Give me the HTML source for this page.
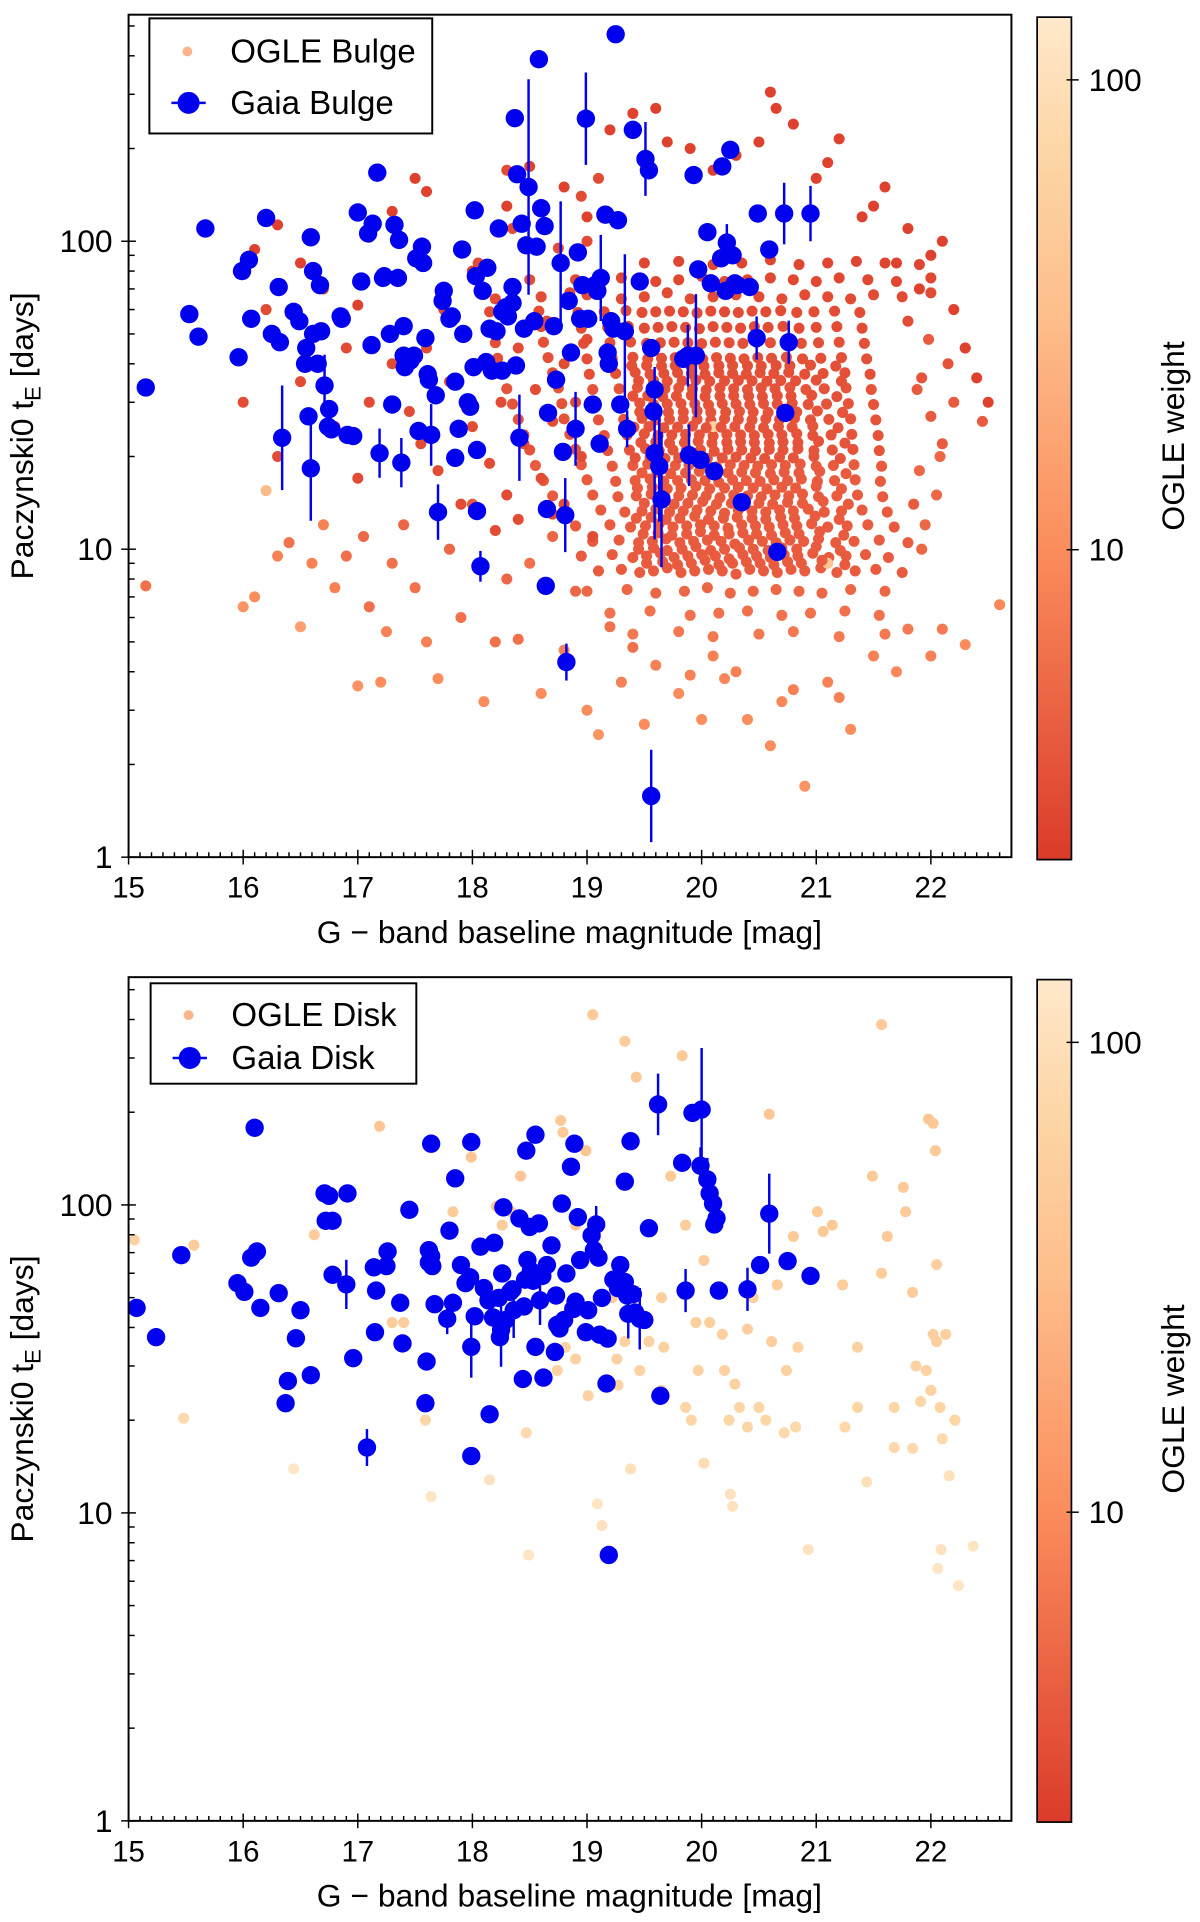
<!DOCTYPE html>
<html><head><meta charset="utf-8"><title>OGLE vs Gaia timescales</title>
<style>
html,body{margin:0;padding:0;background:#fff;}
svg{display:block;}
text{font-family:"Liberation Sans Narrow","Liberation Sans",sans-serif;fill:#000;}
</style></head>
<body>
<svg id="fig" width="1200" height="1922" viewBox="0 0 980 1569.6" preserveAspectRatio="none" xmlns="http://www.w3.org/2000/svg">
<defs>
<linearGradient id="cmap" x1="0" y1="1" x2="0" y2="0">
<stop offset="0" stop-color="#db3b2a"/><stop offset="0.37" stop-color="#fb8d5d"/><stop offset="0.65" stop-color="#fdbf8c"/><stop offset="0.85" stop-color="#fdd7a8"/><stop offset="1" stop-color="#fee8cb"/>
</linearGradient>
<clipPath id="clipTop"><rect x="105" y="12" width="721" height="688"/></clipPath>
<clipPath id="clipBot"><rect x="105" y="798" width="721" height="689"/></clipPath>
</defs>
</svg>
<script>
// ---------- Bulge: Gaia ----------
const gaiaBMag=[15.15,15.53,15.61,15.67,15.96,15.99,16.05,16.07,16.20,16.25,16.31,16.32,16.34,16.44,16.49,16.54,16.55,16.57,16.59,16.59,16.61,16.61,16.65,16.67,16.68,16.71,16.74,16.75,16.77,16.85,16.86,16.91,16.96,17.00,17.03,17.09,17.12,17.13,17.17,17.19,17.22,17.23,17.28,17.30,17.32,17.35,17.36,17.38,17.40,17.40,17.41,17.46,17.49,17.51,17.53,17.56,17.57,17.59,17.61,17.62,17.64,17.68,17.70,17.74,17.75,17.80,17.82,17.85,17.85,17.88,17.91,17.92,17.96,17.98,18.01,18.02,18.03,18.04,18.04,18.07,18.09,18.12,18.13,18.15,18.17,18.21,18.23,18.26,18.26,18.29,18.31,18.35,18.35,18.37,18.38,18.39,18.41,18.43,18.45,18.47,18.49,18.54,18.56,18.58,18.60,18.63,18.64,18.65,18.66,18.71,18.73,18.77,18.79,18.81,18.82,18.84,18.86,18.90,18.92,18.94,18.96,18.99,19.01,19.05,19.07,19.09,19.11,19.12,19.16,19.18,19.19,19.21,19.23,19.25,19.27,19.29,19.33,19.35,19.40,19.46,19.51,19.54,19.56,19.58,19.59,19.59,19.63,19.65,19.56,19.84,19.88,19.89,19.93,19.95,19.97,19.99,20.05,20.08,20.11,20.17,20.18,20.21,20.22,20.25,20.27,20.29,20.31,20.35,20.42,20.48,20.49,20.59,20.66,20.72,20.73,20.76,20.95];
const gaiaBTe=[33.5,58,49,110,42,80,87,56,119,50,71,47,23,59,55,40,45,27,18.3,103,80,50,40,72,51,34,25,28.5,24.5,57,56,23.5,23.3,124,74,106,46,114,167,20.5,76,77,50,29.5,113,76,101,19.1,53,42.5,39,41,42.5,88,24.2,96,85,48.5,37,35.5,23.5,31.6,13.2,64,69,56,57,35,19.8,24.6,94,50,30,29,39,126,77,21,13.3,8.8,69,40.5,82,52,38,51,110,59,38,61,57,63,71,251,39.5,165,23,114,52,97,150,55,96,390,128,112,7.6,13.5,27.7,53,35.5,85,20.7,12.9,4.3,64,43.5,24.6,92,56,72,250,56,29.5,72,69,22,76,122,43.5,40,55,52,470,117,29.5,51,24.6,230,74,185,170,45,28,33,20.5,18.6,14.5,1.58,41.5,42.5,20.2,164,42.5,81,19.5,107,73,17.9,88,175,69,99,198,90,73,72,14.2,71,48.5,123,94,9.8,123,27.7,47,123];
// error bars (indices into gaia arrays, half-width in dex)
const gaiaBErrIdx=[12,18,25,39,47,60,62,79,96,100,111,113,114,117,121,127,136,137,140,145,146,147,148,150,151,153,162,169,173,175,176];
const gaiaBErrDex=[0.17,0.17,0.1,0.08,0.08,0.1,0.09,0.05,0.14,0.35,0.2,0.12,0.06,0.12,0.15,0.14,0.25,0.06,0.12,0.28,0.18,0.22,0.15,0.1,0.1,0.2,0.06,0.07,0.1,0.07,0.09];
// ---------- Bulge: OGLE ----------
const ogleBMag=[
19.10,19.30,19.46,19.58,19.70,19.82,19.94,20.06,20.18,20.30,20.42,20.54,20.66,20.78,20.90,21.04,21.18,21.34,21.52,21.75,
18.95,19.22,19.40,19.52,19.64,19.76,19.88,20.00,20.12,20.24,20.36,20.48,20.60,20.72,20.84,20.97,21.11,21.26,21.43,21.63,
19.05,19.28,19.45,19.57,19.69,19.81,19.93,20.05,20.17,20.29,20.41,20.53,20.65,20.77,20.89,21.02,21.17,21.33,21.55,21.80,
18.90,19.20,19.38,19.51,19.63,19.75,19.87,19.99,20.11,20.23,20.35,20.47,20.59,20.71,20.83,20.96,21.10,21.27,21.45,21.68,
18.80,19.12,19.33,19.48,19.60,19.72,19.84,19.96,20.08,20.20,20.32,20.44,20.56,20.68,20.80,20.93,21.07,21.22,21.40,21.62,
18.70,19.05,19.27,19.43,19.56,19.68,19.80,19.92,20.04,20.16,20.28,20.40,20.52,20.64,20.76,20.88,21.02,21.18,21.36,21.58,
18.62,19.00,19.25,19.42,19.55,19.67,19.79,19.91,20.03,20.15,20.27,20.39,20.51,20.63,20.75,20.87,21.01,21.16,21.34,21.56,
18.55,18.95,19.22,19.40,19.53,19.65,19.77,19.89,20.01,20.13,20.25,20.37,20.49,20.61,20.73,20.86,21.00,21.15,21.33,21.57,
18.50,18.90,19.18,19.37,19.51,19.63,19.75,19.87,19.99,20.11,20.23,20.35,20.47,20.59,20.71,20.84,20.98,21.14,21.32,21.55,
18.45,18.85,19.15,19.35,19.50,19.62,19.74,19.86,19.98,20.10,20.22,20.34,20.46,20.58,20.70,20.83,20.97,21.13,21.31,21.54,
18.40,18.80,19.10,19.32,19.48,19.60,19.72,19.84,19.96,20.08,20.20,20.32,20.44,20.56,20.68,20.81,20.95,21.11,21.30,21.52,
18.35,18.78,19.08,19.30,19.46,19.58,19.70,19.82,19.94,20.06,20.18,20.30,20.42,20.54,20.66,20.79,20.93,21.09,21.28,21.50,
18.30,18.75,19.05,19.28,19.44,19.56,19.68,19.80,19.92,20.04,20.16,20.28,20.40,20.52,20.64,20.77,20.91,21.07,21.26,21.48,
18.25,18.70,19.02,19.25,19.42,19.55,19.67,19.79,19.91,20.03,20.15,20.27,20.39,20.51,20.63,20.76,20.90,21.06,21.25,21.47,
18.22,18.66,19.00,19.22,19.40,19.53,19.65,19.77,19.89,20.01,20.13,20.25,20.37,20.49,20.61,20.74,20.88,21.04,21.22,21.44,
18.20,18.62,18.97,19.20,19.38,19.52,19.64,19.76,19.88,20.00,20.12,20.24,20.36,20.48,20.60,20.73,20.87,21.02,21.20,21.42,
18.18,18.60,18.95,19.18,19.36,19.50,19.62,19.74,19.86,19.98,20.10,20.22,20.34,20.46,20.58,20.71,20.85,21.00,21.18,21.40,
18.15,18.58,18.92,19.15,19.34,19.48,19.60,19.72,19.84,19.96,20.08,20.20,20.32,20.44,20.56,20.69,20.83,20.98,21.16,21.38,
19.00,19.35,19.60,19.85,20.05,20.25,20.45,20.65,20.85,21.05,21.30,21.60,
19.20,19.55,19.90,20.15,20.40,20.70,20.95,21.25,21.55,
19.40,19.80,20.10,20.50,20.80,21.20,21.60,
18.60,19.00,19.30,19.50,19.70,19.90,20.10,20.30,20.50,20.70,20.90,21.10,21.30,21.50,21.75,22.00,
18.90,19.30,19.60,19.80,20.00,20.20,20.40,20.60,20.80,21.00,21.20,21.45,21.70,22.00,
19.50,19.80,20.10,20.35,20.60,20.85,21.10,21.35,21.60,21.90,
21.95,22.05,21.90,22.10,22.00,22.20,21.92,22.15,22.30,21.98,22.08,22.45,21.85,21.88,21.80,21.92,
17.45,17.55,17.60,17.70,17.75,17.80,17.90,17.95,18.00,18.05,18.10,18.15,18.20,18.25,18.30,18.35,18.40,18.45,18.50,18.55,18.60,18.60,18.65,18.70,18.75,18.80,18.80,18.85,18.90,18.95,18.95,19.00,19.05,19.00,18.70,18.40,18.20,19.10,18.30,17.30,17.20,17.10,17.00,16.90,16.80,16.70,16.50,16.30,16.20,16.00,
16.10,16.30,16.50,17.00,17.10,17.30,17.50,17.60,17.90,18.00,18.30,18.50,18.80,19.00,19.20,19.40,19.60,19.70,19.90,20.10,20.30,20.50,20.60,20.65,20.80,21.00,21.10,21.20,21.40,21.50,21.60,21.80,22.00,22.20,22.30,22.50,22.40,21.90,22.10,21.70,
15.15,16.00,16.10,16.20,16.30,16.40,16.50,16.60,16.70,16.80,16.90,17.00,17.05,17.10,17.20,17.25,17.30,17.40,17.50,17.60,17.70,17.80,17.90,18.00,18.10,18.20,18.30,18.40,18.50,18.60,18.70,18.80,18.90,19.00,19.10,19.20,19.30,19.40,19.50,19.60,19.80,19.90,20.00,20.10,20.20,20.30,20.40,20.60,20.70,20.80,20.90,21.10,21.20,21.30,21.50,21.70,22.00,22.30,21.80,22.10,22.60,20.10,21.10,
19.52,19.66,19.79,19.91,20.03,20.15,20.27,20.39,20.51,20.63,20.75,20.87,21.05,21.25,
19.45,19.58,19.70,19.83,19.95,20.08,20.20,20.33,20.45,20.58,20.70,20.83,21.00,21.21,
19.49,19.62,19.74,19.87,19.99,20.11,20.24,20.36,20.48,20.61,20.73,20.85,21.03,21.24,
19.43,19.56,19.69,19.81,19.94,20.06,20.19,20.31,20.44,20.56,20.69,20.81,20.99,21.20,
19.50,19.63,19.76,19.88,20.01,20.13,20.26,20.38,20.50,20.62,20.75,20.88,21.06,21.28,
19.44,19.57,19.70,19.82,19.95,20.07,20.20,20.32,20.45,20.57,20.70,20.82,21.00,21.22,
19.48,19.61,19.73,19.86,19.98,20.10,20.23,20.35,20.47,20.60,20.72,20.85,21.03,21.26,
19.42,19.55,19.68,19.80,19.93,20.05,20.18,20.30,20.43,20.55,20.68,20.80,20.98,21.21,
19.47,19.60,19.72,19.85,19.97,20.09,20.22,20.34,20.46,20.59,20.71,20.84,21.02,21.25,
19.41,19.54,19.67,19.79,19.92,20.04,20.17,20.29,20.42,20.54,20.67,20.79,20.97,21.19,
19.46,19.59,19.71,19.84,19.96,20.08,20.21,20.33,20.45,20.58,20.70,20.83,21.01,21.23,
19.40,19.53,19.66,19.78,19.91,20.03,20.16,20.28,20.41,20.53,20.66,20.78,20.96,21.18,
19.45,19.58,19.70,19.83,19.95,20.07,20.20,20.32,20.44,20.57,20.69,20.82,21.00,21.22,
19.39,19.52,19.65,19.77,19.90,20.02,20.15,20.27,20.40,20.52,20.65,20.77,20.95,21.17];
const ogleBTe=[
8.5,8.6,8.4,8.5,8.7,8.4,8.5,8.6,8.5,8.3,8.6,8.5,8.4,8.6,8.5,8.7,8.4,8.5,8.6,8.4,
9.5,9.6,9.4,9.5,9.7,9.4,9.5,9.6,9.5,9.3,9.6,9.5,9.4,9.6,9.5,9.7,9.4,9.5,9.6,9.4,
10.6,10.7,10.5,10.6,10.8,10.5,10.6,10.7,10.6,10.4,10.7,10.6,10.5,10.7,10.6,10.8,10.5,10.6,10.7,10.5,
11.9,12.0,11.8,11.9,12.1,11.8,11.9,12.0,11.9,11.7,12.0,11.9,11.8,12.0,11.9,12.1,11.8,11.9,12.0,11.8,
13.3,13.4,13.2,13.3,13.5,13.2,13.3,13.4,13.3,13.1,13.4,13.3,13.2,13.4,13.3,13.5,13.2,13.3,13.4,13.2,
14.9,15.0,14.8,14.9,15.1,14.8,14.9,15.0,14.9,14.7,15.0,14.9,14.8,15.0,14.9,15.1,14.8,14.9,15.0,14.8,
16.7,16.8,16.6,16.7,16.9,16.6,16.7,16.8,16.7,16.5,16.8,16.7,16.6,16.8,16.7,16.9,16.6,16.7,16.8,16.6,
18.7,18.8,18.6,18.7,18.9,18.6,18.7,18.8,18.7,18.5,18.8,18.7,18.6,18.8,18.7,18.9,18.6,18.7,18.8,18.6,
21.0,21.1,20.9,21.0,21.2,20.9,21.0,21.1,21.0,20.8,21.1,21.0,20.9,21.1,21.0,21.2,20.9,21.0,21.1,20.9,
23.5,23.6,23.4,23.5,23.7,23.4,23.5,23.6,23.5,23.3,23.6,23.5,23.4,23.6,23.5,23.7,23.4,23.5,23.6,23.4,
26.4,26.5,26.3,26.4,26.6,26.3,26.4,26.5,26.4,26.2,26.5,26.4,26.3,26.5,26.4,26.6,26.3,26.4,26.5,26.3,
29.6,29.7,29.5,29.6,29.8,29.5,29.6,29.7,29.6,29.4,29.7,29.6,29.5,29.7,29.6,29.8,29.5,29.6,29.7,29.5,
33.2,33.4,33.0,33.2,33.5,33.0,33.2,33.4,33.2,32.9,33.4,33.2,33.0,33.4,33.2,33.5,33.0,33.2,33.4,33.0,
37.2,37.4,37.0,37.2,37.5,37.0,37.2,37.4,37.2,36.9,37.4,37.2,37.0,37.4,37.2,37.5,37.0,37.2,37.4,37.0,
41.7,41.9,41.5,41.7,42.0,41.5,41.7,41.9,41.7,41.4,41.9,41.7,41.5,41.9,41.7,42.0,41.5,41.7,41.9,41.5,
46.8,47.0,46.6,46.8,47.1,46.6,46.8,47.0,46.8,46.5,47.0,46.8,46.6,47.0,46.8,47.1,46.6,46.8,47.0,46.6,
52.5,52.8,52.2,52.5,52.9,52.2,52.5,52.8,52.5,52.0,52.8,52.5,52.2,52.8,52.5,52.9,52.2,52.5,52.8,52.2,
59,59.3,58.7,59,59.5,58.7,59,59.3,59,58.5,59.3,59,58.7,59.3,59,59.5,58.7,59,59.3,58.7,
7.3,7.4,7.2,7.3,7.5,7.2,7.3,7.4,7.3,7.2,7.4,7.3,
6.2,6.3,6.1,6.2,6.3,6.1,6.2,6.3,6.1,
5.3,5.4,5.2,5.3,5.4,5.2,5.3,
66,67,65,66,68,65,66,67,66,65,67,66,65,67,66,68,
75,76,74,75,77,74,75,76,75,74,76,75,74,76,
85,86,84,85,87,84,85,86,85,84,
12,15,18,22,27,30,36,40,45,48,20,26,14,33,55,10,
28,22,45,18,60,35,14,50,25,85,40,19,65,30,15,110,45,22,75,33,17,130,55,26,95,40,14,68,30,20,140,48,11,100,13,12.5,11.5,160,170,40,20,30,17,45,25,70,35,20,60,30,
94,113,85,62,103,125,160,145,95,80,130,175,150,120,230,260,270,210,200,170,190,210,305,270,240,160,180,215,120,130,150,110,90,60,45,30,36,70,100,85,
7.6,6.5,7,15.5,9.5,10.5,5.6,9,12,7.5,9.5,3.6,11,6.5,3.7,5.4,9,12,7.5,5,3.8,10,6,14,3.2,5,8,5.1,9,3.4,11,4.7,7.3,3,2.5,5.6,3.7,4.8,2.7,4.2,3.4,3.9,2.8,4.5,3.8,4,2.8,2.3,3.2,3.5,1.7,3.7,3.3,2.6,4.5,4,4.5,4.9,5.5,5.5,6.6,25,9,
9.0,9.1,8.9,9.0,9.2,8.9,9.0,9.1,9.0,8.9,9.1,9.0,9.2,8.9,
10.0,10.1,9.9,10.0,10.2,9.9,10.0,10.1,10.0,9.9,10.1,10.0,10.2,9.9,
11.2,11.3,11.1,11.2,11.4,11.1,11.2,11.3,11.2,11.1,11.3,11.2,11.4,11.1,
12.6,12.7,12.5,12.6,12.8,12.5,12.6,12.7,12.6,12.5,12.7,12.6,12.8,12.5,
14.1,14.2,14.0,14.1,14.3,14.0,14.1,14.2,14.1,14.0,14.2,14.1,14.3,14.0,
15.8,15.9,15.7,15.8,16.0,15.7,15.8,15.9,15.8,15.7,15.9,15.8,16.0,15.7,
17.7,17.8,17.6,17.7,17.9,17.6,17.7,17.8,17.7,17.6,17.8,17.7,17.9,17.6,
19.8,19.9,19.7,19.8,20.0,19.7,19.8,19.9,19.8,19.7,19.9,19.8,20.0,19.7,
22.2,22.3,22.1,22.2,22.4,22.1,22.2,22.3,22.2,22.1,22.3,22.2,22.4,22.1,
24.9,25.0,24.8,24.9,25.1,24.8,24.9,25.0,24.9,24.8,25.0,24.9,25.1,24.8,
27.9,28.0,27.8,27.9,28.1,27.8,27.9,28.0,27.9,27.8,28.0,27.9,28.1,27.8,
31.4,31.5,31.3,31.4,31.6,31.3,31.4,31.5,31.4,31.3,31.5,31.4,31.6,31.3,
35.2,35.3,35.1,35.2,35.4,35.1,35.2,35.3,35.2,35.1,35.3,35.2,35.4,35.1,
39.4,39.5,39.3,39.4,39.6,39.3,39.4,39.5,39.4,39.3,39.5,39.4,39.6,39.3];
const ogleBW=[
4,4,4,4,4,4,4,4,4,4,4,4,4,4,4,4,4,4,4,4,
4,4,4,4,4,4,4,4,4,4,4,4,4,4,4,4,4,4,4,4,
4,4,4,4,4,4,4,4,4,4,4,4,4,4,4,4,4,4,4,4,
4,4,4,4,4,4,4,4,4,4,4,4,4,4,4,4,4,4,4,4,
4,4,4,4,4,4,4,4,4,4,4,4,4,4,4,4,4,4,4,4,
4,4,4,4,4,4,4,4,4,4,4,4,4,4,4,4,4,4,4,4,
4,4,4,4,4,4,4,4,4,4,4,4,4,4,4,4,4,4,4,4,
4,4,4,4,4,4,4,4,4,4,4,4,4,4,4,4,4,4,4,4,
3.5,3.5,3.5,3.5,3.5,3.5,3.5,3.5,3.5,3.5,3.5,3.5,3.5,3.5,3.5,3.5,3.5,3.5,3.5,3.5,
3.5,3.5,3.5,3.5,3.5,3.5,3.5,3.5,3.5,3.5,3.5,3.5,3.5,3.5,3.5,3.5,3.5,3.5,3.5,3.5,
3.5,3.5,3.5,3.5,3.5,3.5,3.5,3.5,3.5,3.5,3.5,3.5,3.5,3.5,3.5,3.5,3.5,3.5,3.5,3.5,
3.5,3.5,3.5,3.5,3.5,3.5,3.5,3.5,3.5,3.5,3.5,3.5,3.5,3.5,3.5,3.5,3.5,3.5,3.5,3.5,
3.5,3.5,3.5,3.5,3.5,3.5,3.5,3.5,3.5,3.5,3.5,3.5,3.5,3.5,3.5,3.5,3.5,3.5,3.5,3.5,
3.2,3.2,3.2,3.2,3.2,3.2,3.2,3.2,3.2,3.2,3.2,3.2,3.2,3.2,3.2,3.2,3.2,3.2,3.2,3.2,
3.2,3.2,3.2,3.2,3.2,3.2,3.2,3.2,3.2,3.2,3.2,3.2,3.2,3.2,3.2,3.2,3.2,3.2,3.2,3.2,
3.2,3.2,3.2,3.2,3.2,3.2,3.2,3.2,3.2,3.2,3.2,3.2,3.2,3.2,3.2,3.2,3.2,3.2,3.2,3.2,
3,3,3,3,3,3,3,3,3,3,3,3,3,3,3,3,3,3,3,3,
3,3,3,3,3,3,3,3,3,3,3,3,3,3,3,3,3,3,3,3,
5,5,5,5,5,5,5,5,5,5,5,5,
6,6,6,6,6,6,6,6,6,
7,7,7,7,7,7,7,
3,3,3,3,3,3,3,3,3,3,3,3,3,3,3,3,
2.8,2.8,2.8,2.8,2.8,2.8,2.8,2.8,2.8,2.8,2.8,2.8,2.8,2.8,
2.7,2.7,2.7,2.7,2.7,2.7,2.7,2.7,2.7,2.7,
5,5,5,4,4,4,3.5,3.5,3.5,4,5,4,4,4,3,5,
3,3,3,3,3,3,3,3,3,3,3,3,3,3,3,3,3,3,3,3,3,3,3,3,3,3,3,3,3,3,3,3,3,3,3,3,3,3,3,3,3,3,3,3,3,3,3,3,3,3,
2.5,2.5,2.5,2.5,2.5,2.5,2.5,2.5,2.5,2.5,2.5,2.5,2.5,2.5,2.5,2.5,2.5,2.5,2.5,2.5,2.5,2.5,2.5,2.5,2.5,2.5,2.5,2.5,2.5,2.5,2.5,2.5,2.5,2.5,2.5,2.5,2.5,2.5,2.5,2.5,
6,12,10,30,8,6,15,8,8,8,6,12,5,6,10,8,6,5,6,8,10,5,6,4,10,6,5,6,6,10,5,8,5,10,12,6,8,6,10,8,10,8,10,8,9,8,10,10,9,8,12,8,8,10,8,9,8,10,7,7,9,60,40,
4,4,4,4,4,4,4,4,4,4,4,4,4,4,
4,4,4,4,4,4,4,4,4,4,4,4,4,4,
4,4,4,4,4,4,4,4,4,4,4,4,4,4,
4,4,4,4,4,4,4,4,4,4,4,4,4,4,
4,4,4,4,4,4,4,4,4,4,4,4,4,4,
4,4,4,4,4,4,4,4,4,4,4,4,4,4,
4,4,4,4,4,4,4,4,4,4,4,4,4,4,
3.5,3.5,3.5,3.5,3.5,3.5,3.5,3.5,3.5,3.5,3.5,3.5,3.5,3.5,
3.5,3.5,3.5,3.5,3.5,3.5,3.5,3.5,3.5,3.5,3.5,3.5,3.5,3.5,
3.5,3.5,3.5,3.5,3.5,3.5,3.5,3.5,3.5,3.5,3.5,3.5,3.5,3.5,
3.5,3.5,3.5,3.5,3.5,3.5,3.5,3.5,3.5,3.5,3.5,3.5,3.5,3.5,
3.3,3.3,3.3,3.3,3.3,3.3,3.3,3.3,3.3,3.3,3.3,3.3,3.3,3.3,
3.3,3.3,3.3,3.3,3.3,3.3,3.3,3.3,3.3,3.3,3.3,3.3,3.3,3.3,
3.2,3.2,3.2,3.2,3.2,3.2,3.2,3.2,3.2,3.2,3.2,3.2,3.2,3.2];
// ---------- Disk: Gaia ----------
const gaiaDMag=[15.07,15.24,15.46,15.95,16.01,16.07,16.10,16.12,16.15,16.31,16.37,16.39,16.46,16.50,16.59,16.71,16.72,16.75,16.78,16.78,16.90,16.91,16.96,17.08,17.14,17.15,17.16,17.25,17.26,17.37,17.39,17.45,17.59,17.60,17.62,17.62,17.64,17.64,17.65,17.67,17.78,17.80,17.83,17.85,17.90,17.94,17.98,17.99,17.99,17.99,18.02,18.07,18.10,18.14,18.15,18.18,18.19,18.23,18.24,18.25,18.26,18.27,18.29,18.33,18.35,18.36,18.41,18.44,18.45,18.46,18.47,18.48,18.50,18.51,18.53,18.55,18.55,18.58,18.59,18.61,18.62,18.65,18.69,18.72,18.73,18.74,18.76,18.78,18.80,18.82,18.86,18.88,18.89,18.90,18.92,18.94,18.99,19.01,19.04,19.06,19.08,19.10,19.11,19.13,19.17,19.18,19.19,19.23,19.27,19.29,19.33,19.33,19.35,19.36,19.38,19.40,19.42,19.46,19.50,19.54,19.62,19.64,19.83,19.86,19.92,20.00,19.99,20.05,20.07,20.10,20.11,20.13,20.15,20.40,20.51,20.59,20.75,20.95];
const gaiaDTe=[46.3,37.2,68.7,55.7,52.2,67.4,178,70.6,46.3,51.7,22.7,26.8,36.9,45.5,28,109,88.8,107,88.8,59.3,55.2,109,31.8,16.3,62.7,38.6,52.7,63.3,70.6,48.1,35.5,96.4,22.7,31,65,71.3,68.1,158,63.3,47.6,42.7,82.5,48.1,122,63.8,55.7,58.2,34.6,160,15.3,43.5,73.2,53.7,49,20.9,43.1,75.3,49.9,37.2,39.3,59.9,98.2,42.3,52.2,53.2,45.5,90.4,27.2,46.8,57.2,150,66.2,84.8,61,56.7,169,34.6,87.1,49,58.8,27.5,63.8,73.9,33.3,50.8,40.8,39.7,101,42.3,59.9,133,45.9,158,48.5,91.2,66.2,38.6,45.5,79.6,71.3,86.4,67.4,37.9,49.9,26.3,36.8,7.3,57.2,53.7,63.8,119,56.2,50.8,44.3,161,51.3,44.7,42.7,42.3,84,212,24,137,52.7,199,204,134,121,109,101,86.4,90.4,52.7,53.2,63.8,93.7,65.7,58.8];
const gaiaDErrIdx=[20,23,40,47,59,65,78,100,113,117,120,123,125,126,127,133,135];
const gaiaDErrDex=[0.08,0.06,0.05,0.1,0.12,0.09,0.08,0.06,0.08,0.1,0.1,0.07,0.2,0.06,0.07,0.07,0.13];
// ---------- Disk: OGLE ----------
const ogleDMag=[15.05,15.48,15.57,15.97,16.44,16.62,17.19,17.30,17.40,17.59,17.64,17.83,17.99,18.15,18.21,18.26,18.34,18.42,18.47,18.49,18.69,18.77,18.79,18.81,18.90,18.99,19.05,19.09,19.13,19.22,19.26,19.33,19.38,19.46,19.54,19.67,19.73,19.83,19.86,19.91,19.95,20.02,20.07,20.20,20.24,20.25,20.27,20.29,20.33,20.40,20.45,20.50,20.56,20.59,20.61,20.66,20.72,20.74,20.80,20.84,20.93,21.01,21.06,21.14,21.23,21.36,21.44,21.49,21.57,21.62,21.68,21.76,21.84,21.87,21.91,21.96,21.98,22.00,22.02,22.05,22.08,22.10,22.13,22.16,22.21,22.24,22.09,21.57,19.43,19.86,19.65,19.27,19.01,18.74,20.40,20.18,19.97,18.90,19.33,20.02,19.65,20.82,21.25,21.36,21.78,22.02,22.04,22.06,21.68,21.84,22.37,22.05];
const ogleDTe=[77,20.3,74,55,13.9,80,180,41.5,41.5,20,11.3,95,143,12.8,99,86,95,124,18.2,7.3,33,188,172,34.5,86,150,415,10.7,9.1,50,31.6,340,13.9,29,36,34.5,124,305,86,20,41.5,66,41.5,29,20,11.5,10.5,26.2,22,39.5,50,22,20,197,36,55,18.2,29,79,34.5,7.6,95,82,86,55,22,12.6,124,60,79,22,114,52,30,23,29,190,25,38,36,22,17.4,38,13.2,20,5.8,7.6,385,260,22,25,26,24,29,19,38,29,31.6,36,14.5,50,19,19,34.5,95,184,150,6.6,16.3,16.2,7.8,64];
const ogleDW=[60,80,50,60,120,50,40,50,50,70,120,50,40,110,40,50,50,40,80,120,60,45,45,60,45,40,45,120,110,50,60,50,100,60,60,60,45,45,50,70,55,50,55,60,70,110,110,60,70,55,55,70,70,40,55,50,80,60,45,60,110,45,45,45,50,70,100,45,50,45,70,45,50,60,70,60,40,60,55,55,65,80,55,100,70,120,110,45,45,70,60,60,60,60,70,55,60,60,60,90,55,75,75,60,45,45,45,120,80,80,120,55];

const SVGNS="http://www.w3.org/2000/svg";
const svg=document.getElementById('fig');
function mk(tag,attrs,parent){const e=document.createElementNS(SVGNS,tag);for(const k in attrs)e.setAttribute(k,attrs[k]);(parent||svg).appendChild(e);return e;}
function xS(m){return 105+(m-15)*93.6;}
function yTop(t){return 700-251.5*Math.log10(t);}
function yBot(t){return 1487-251.5*Math.log10(t);}
const stops=[[0,[219,59,42]],[0.37,[251,141,93]],[0.65,[253,191,140]],[0.85,[253,215,168]],[1,[254,232,203]]];
function cmap(w){let t=(Math.log10(w)-Math.log10(2.19))/(Math.log10(136)-Math.log10(2.19));t=Math.max(0,Math.min(1,t));
 for(let i=1;i<stops.length;i++){if(t<=stops[i][0]){const a=stops[i-1],b=stops[i];const f=(t-a[0])/(b[0]-a[0]);const c=a[1].map((v,j)=>Math.round(v+(b[1][j]-v)*f));return `rgb(${c[0]},${c[1]},${c[2]})`;}}return 'rgb(254,232,203)';}

function panel(P){
 const g=mk('g',{});
 
 
 const top=P.top,bot=P.bot;
 const data=mk('g',{'clip-path':`url(#${P.clip})`},g);
 const og=mk('g',{},data);
 
 
 for(let i=0;i<P.om.length;i++){
  const c=mk('circle',{cx:xS(P.om[i]),cy:P.yS(P.ot[i]),r:4.5,fill:cmap(P.ow[i])},og);
  
  
 }
 const gg=mk('g',{},data);
 
 
 for(let k=0;k<P.ei.length;k++){
  const i=P.ei[k];const d=P.ed[k];const lt=Math.log10(P.gt[i]);
  const l=mk('line',{x1:xS(P.gm[i]),x2:xS(P.gm[i]),y1:P.yS(Math.pow(10,lt-d)),y2:P.yS(Math.pow(10,lt+d)),stroke:'#0000ee','stroke-width':2},gg);
  
  
 }
 for(let i=0;i<P.gm.length;i++){
  const c=mk('circle',{cx:xS(P.gm[i]),cy:P.yS(P.gt[i]),r:7.5,fill:'#0000ee'},gg);
  
  
 }
 const fr=mk('rect',{x:105,y:top,width:721,height:bot-top,fill:'none',stroke:'#000','stroke-width':1.6},g);
 
 
 const xa=mk('g',{},g);
 
 
 for(let k=0;k<=76;k++){const m=15+k*0.1;const x=xS(m);if(x>826)break;
  const major=k%10===0;
  mk('line',{x1:x,x2:x,y1:major?bot+6:bot,y2:bot-(major?6:4),stroke:'#000','stroke-width':1.2},xa);
  if(major){const t=mk('text',{x:x,y:bot+33,'text-anchor':'middle','font-size':24},xa);t.textContent=String(15+k/10);
   
   }
 }
 const xl=mk('text',{x:465,y:bot+70,'text-anchor':'middle','font-size':26},g);
 xl.textContent='G \u2212 band baseline magnitude [mag]';
 
 
 const ya=mk('g',{},g);
 
 
 for(let d=0;d<3;d++)for(let k=1;k<10;k++){const v=k*Math.pow(10,d);const y=P.yS(v);if(y<top)continue;
  const major=k===1;
  mk('line',{x1:major?99:105,x2:105+(major?6:5),y1:y,y2:y,stroke:'#000','stroke-width':1.2},ya);
  if(major){const t=mk('text',{x:92,y:y+9,'text-anchor':'end','font-size':26},ya);t.textContent=String(v);
   
   }
 }
 const cy=(top+bot)/2;
 const yl=mk('text',{x:0,y:0,'text-anchor':'middle','font-size':26,transform:`translate(27,${cy}) rotate(-90)`},g);
 yl.innerHTML='Paczynski0 t<tspan font-size="18" dy="6">E</tspan><tspan dy="-6"> [days]</tspan>';
 
 
 const cb=mk('g',{},g);
 
 
 mk('rect',{x:847,y:top+2,width:28,height:688,fill:'url(#cmap)',stroke:'#000','stroke-width':1.4},cb);
 const cbY=v=>(top+2+688)-(Math.log10(v)-Math.log10(2.19))/(Math.log10(136)-Math.log10(2.19))*688;
 [10,100].forEach(v=>{const y=cbY(v);mk('line',{x1:871,x2:881,y1:y,y2:y,stroke:'#000','stroke-width':1.2},cb);
  const t=mk('text',{x:889,y:y+9,'font-size':26,'font-family':'DejaVu Sans, sans-serif'},cb);t.textContent=String(v);
  
  });
 const cl=mk('text',{x:0,y:0,'text-anchor':'middle','font-size':26,transform:`translate(967,${cy}) rotate(-90)`},cb);
 cl.textContent='OGLE weight';
 
 
 const L=P.leg;
 const lg=mk('g',{},g);
 
 
 mk('rect',{x:L.x,y:L.y,width:L.w,height:L.h,fill:'#fff',stroke:'#000','stroke-width':1.6},lg);
 mk('circle',{cx:L.x+31,cy:L.y1,r:4,fill:'#fdb48a'},lg);
 const t1=mk('text',{x:L.x+66,y:L.y1+9,'font-size':27},lg);t1.textContent=L.t1;
 
 
 mk('line',{x1:L.x+18,x2:L.x+46,y1:L.y2,y2:L.y2,stroke:'#0000ee','stroke-width':2},lg);
 mk('circle',{cx:L.x+32,cy:L.y2,r:9,fill:'#0000ee'},lg);
 const t2=mk('text',{x:L.x+66,y:L.y2+9,'font-size':27},lg);t2.textContent=L.t2;
 
 
}
panel({name:'bulge-panel',ogleName:'ogle-bulge-series',gaiaName:'gaia-bulge-series',top:12,bot:700,clip:'clipTop',yS:yTop,
 om:ogleBMag,ot:ogleBTe,ow:ogleBW,gm:gaiaBMag,gt:gaiaBTe,ei:gaiaBErrIdx,ed:gaiaBErrDex,
 leg:{x:122,y:15,w:231,h:94,y1:42,y2:84,t1:'OGLE Bulge',t2:'Gaia Bulge'}});
panel({name:'disk-panel',ogleName:'ogle-disk-series',gaiaName:'gaia-disk-series',top:798,bot:1487,clip:'clipBot',yS:yBot,
 om:ogleDMag,ot:ogleDTe,ow:ogleDW,gm:gaiaDMag,gt:gaiaDTe,ei:gaiaDErrIdx,ed:gaiaDErrDex,
 leg:{x:123,y:803,w:217,h:82,y1:829,y2:864,t1:'OGLE Disk',t2:'Gaia Disk'}});
</script>
</body></html>
